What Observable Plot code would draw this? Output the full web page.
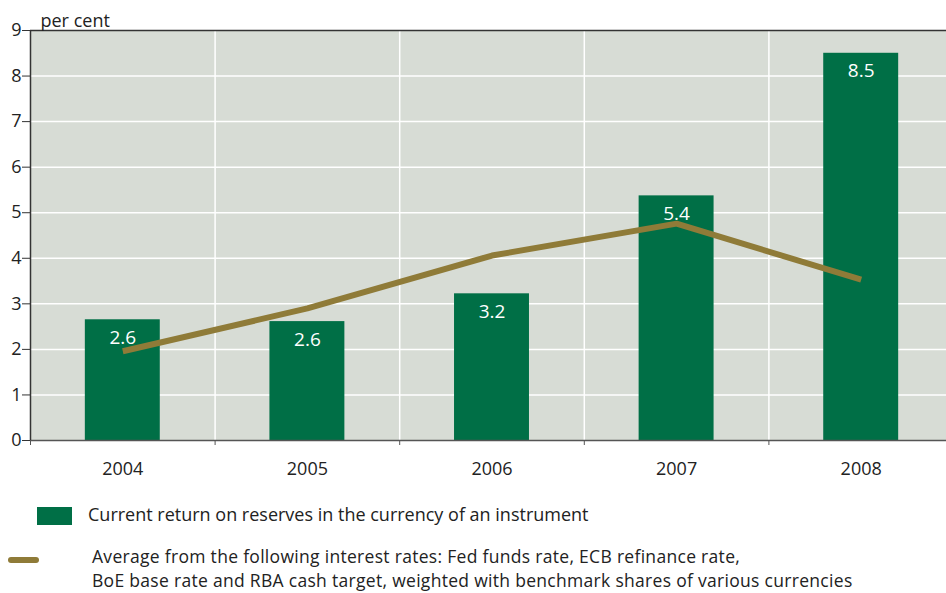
<!DOCTYPE html>
<html>
<head>
<meta charset="utf-8">
<script src="https://cdn.jsdelivr.net/npm/d3@7"></script>
<script src="https://cdn.jsdelivr.net/npm/@observablehq/plot@0.6"></script>
<style>
  html, body { margin: 0; padding: 0; background: #fff; overflow: hidden; }
  body { width: 946px; height: 593px; font-family: "Open Sans", sans-serif; color: #222; }
  #chart svg { display: block; }
  .legend { position: relative; height: 103px; font-size: 18px; }
  .legend .sw-bar { position: absolute; left: 37px; top: 17px; width: 35px; height: 18px; background: #006f46; }
  .legend .t1 { position: absolute; left: 88px; top: 13px; height: 22px; line-height: 22px; white-space: nowrap; }
  .legend .sw-line { position: absolute; left: 8px; top: 67px; width: 31px; height: 6px; border-radius: 3px; background: #8f7b38; }
  .legend .t2a, .legend .t2b { position: absolute; left: 92px; height: 24px; line-height: 24px; white-space: nowrap; font-size: 17.5px; letter-spacing: 0.3px; }
  .legend .t2a { top: 54px; }
  .legend .t2b { top: 78px; }
</style>
</head>
<body>
<div id="chart"></div>
<div class="legend">
  <div class="sw-bar"></div>
  <div class="t1" id="lab1"></div>
  <div class="sw-line"></div>
  <div class="t2a" id="lab2a"></div>
  <div class="t2b" id="lab2b"></div>
</div>
<script>
const years = [2004, 2005, 2006, 2007, 2008];
const currentReturn = [2.65, 2.61, 3.22, 5.37, 8.5];
const returnLabels = ["2.6", "2.6", "3.2", "5.4", "8.5"];
const averageRate = [1.96, 2.9, 4.06, 4.76, 3.53];
const yTicks = [0, 1, 2, 3, 4, 5, 6, 7, 8, 9];
const yLabel = "per cent";
const seriesNames = [
  "Current return on reserves in the currency of an instrument",
  "Average from the following interest rates: Fed funds rate, ECB refinance rate,",
  "BoE base rate and RBA cash target, weighted with benchmark shares of various currencies"
];

const table = years.map((year, i) => ({
  year,
  ret: currentReturn[i],
  label: returnLabels[i],
  avg: averageRate[i]
}));
const halfBar = 0.203;
const boundaries = [years[0] - 0.5, ...years.slice(0, -1).map(y => y + 0.5)];
const innerBounds = boundaries.slice(1);

const chart = Plot.plot({
  width: 946,
  height: 490,
  marginTop: 30,
  marginLeft: 30,
  marginRight: 0,
  marginBottom: 50,
  x: {domain: [years[0] - 0.5, years[years.length - 1] + 0.5], range: [30, 953]},
  y: {domain: [0, 9]},
  style: {fontFamily: "Open Sans, sans-serif", fontSize: "18px", color: "#222", background: "transparent", overflow: "hidden"},
  marks: [
    Plot.frame({fill: "#d7dcd5", stroke: "none"}),
    Plot.gridY(yTicks.slice(1, -1), {stroke: "#ffffff", strokeOpacity: 1, strokeWidth: 1.5}),
    Plot.gridX(innerBounds, {stroke: "#ffffff", strokeOpacity: 1, strokeWidth: 1.5}),
    Plot.rectY(table, {x1: d => d.year - halfBar, x2: d => d.year + halfBar, y1: 0, y2: "ret", fill: "#006f46"}),
    Plot.line(table, {x: "year", y: "avg", stroke: "#8f7b38", strokeWidth: 6, strokeLinecap: "butt", strokeLinejoin: "miter"}),
    Plot.text(table, {x: "year", y: "ret", text: "label", dy: 18, fill: "#ffffff", fontSize: 19}),
    Plot.ruleY([0], {stroke: "#555", strokeWidth: 1.5}),
    Plot.ruleY([yTicks[yTicks.length - 1]], {stroke: "#333", strokeWidth: 1.5}),
    Plot.ruleX([boundaries[0]], {stroke: "#333", strokeWidth: 1.5}),
    Plot.axisY(yTicks, {tickSize: 8, tickPadding: 1, stroke: "#333", label: null, fontSize: 18}),
    Plot.axisX(boundaries, {tickSize: 5, tickFormat: () => "", stroke: "#555", label: null}),
    Plot.axisX(years, {tickSize: 0, tickPadding: 22, tickFormat: d => String(d), label: null, fontSize: 18}),
    Plot.text([yLabel], {frameAnchor: "top-left", dx: 10, dy: -16, textAnchor: "start", fontSize: 18, fill: "#222"})
  ]
});
document.getElementById("chart").appendChild(chart);
document.getElementById("lab1").textContent = seriesNames[0];
document.getElementById("lab2a").textContent = seriesNames[1];
document.getElementById("lab2b").textContent = seriesNames[2];
</script>
</body>
</html>
